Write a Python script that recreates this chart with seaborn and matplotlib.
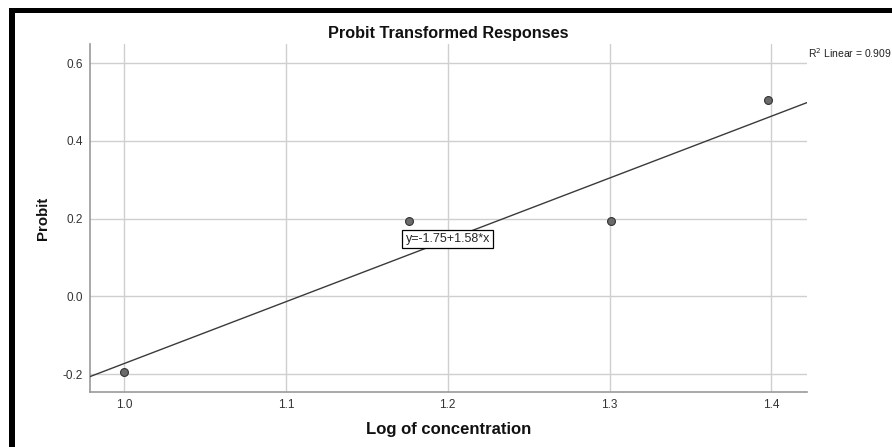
import pandas as pd
import seaborn as sns
import matplotlib.pyplot as plt
from matplotlib.patches import Rectangle

# Values
log_conc = [1.0, 1.176, 1.301, 1.398]
probit = [-0.195, 0.195, 0.195, 0.505]
x_ticks = [1.0, 1.1, 1.2, 1.3, 1.4]
y_ticks = [-0.2, 0.0, 0.2, 0.4, 0.6]
equation = 'y=-1.75+1.58*x'
r2_text = 'R$^2$ Linear = 0.909'

df = pd.DataFrame({'Log of concentration': log_conc, 'Probit': probit})

sns.set_style('whitegrid')
plt.rcParams['font.family'] = ['Liberation Sans', 'DejaVu Sans']

fig = plt.figure(figsize=(8.92, 4.47), dpi=100)
ax = fig.add_axes([0.1009, 0.123, 0.8038, 0.7786])

ax.set_xlim(0.979, 1.422)
ax.set_ylim(-0.246, 0.649)

sns.regplot(data=df, x='Log of concentration', y='Probit', ax=ax, ci=None,
            truncate=False,
            scatter_kws={'s': 32, 'color': '#6b6b6b', 'edgecolor': '#333333',
                         'linewidths': 0.8, 'alpha': 1, 'zorder': 4},
            line_kws={'color': '#3a3a3a', 'linewidth': 1.0, 'zorder': 3})

ax.set_xlim(0.979, 1.422)
ax.set_ylim(-0.246, 0.649)
ax.set_xticks(x_ticks)
ax.set_yticks(y_ticks)
ax.set_xticklabels([f'{v:.1f}' for v in x_ticks])
ax.set_yticklabels([f'{v:.1f}' for v in y_ticks])
ax.tick_params(axis='both', labelsize=8.5, colors='#333333', length=0, pad=5)

ax.grid(True, color='#cfcfcf', linewidth=1.0)
for side in ['top', 'right']:
    ax.spines[side].set_visible(False)
for side in ['left', 'bottom']:
    ax.spines[side].set_color('#9a9a9a')
    ax.spines[side].set_linewidth(1.2)

ax.set_title('Probit Transformed Responses', fontsize=11.7, fontweight='bold',
             color='#111111', pad=4)
ax.set_xlabel('Log of concentration', fontsize=12, fontweight='bold',
              color='#111111', labelpad=8)
ax.set_ylabel('Probit', fontsize=10.8, fontweight='bold', color='#111111', labelpad=9)

ax.text(1.2, 0.147, equation, fontsize=9, ha='center', va='center', zorder=5,
        bbox=dict(boxstyle='square,pad=0.25', facecolor='white', edgecolor='black', linewidth=0.9))

# slightly smaller than the reference so the label stays inside the canvas
fig.text(0.9055, 0.881, r2_text, fontsize=7.5, ha='left', va='center', color='#222222')

# black frame bands at top and left
fig.add_artist(Rectangle((0.0101, 0.971), 0.99, 0.011, transform=fig.transFigure,
                         facecolor='black', edgecolor='none'))
fig.add_artist(Rectangle((0.0101, 0.0), 0.0067, 0.982, transform=fig.transFigure,
                         facecolor='black', edgecolor='none'))

fig.savefig('out.png', dpi=100)
